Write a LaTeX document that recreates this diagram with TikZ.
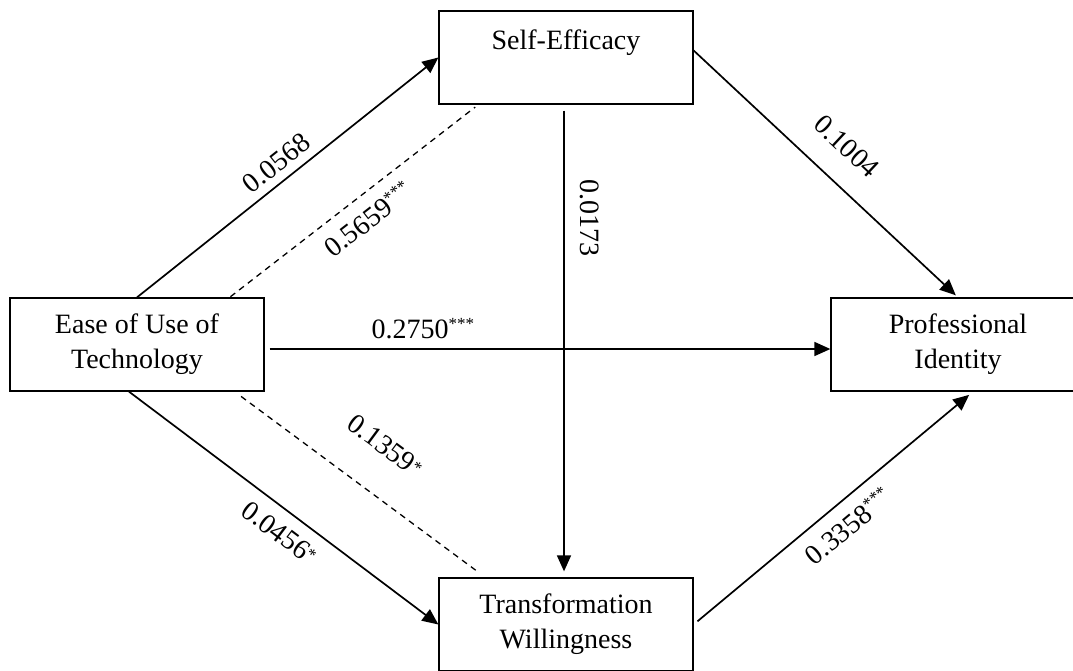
\documentclass[tikz,border=0pt]{standalone}
\usepackage{fontspec}
\setmainfont{Liberation Serif}
\usepackage{tikz}
\usetikzlibrary{positioning, arrows.meta}

% 유의성 표시 (위첨자 / 작은 별표)
\newcommand{\sighi}[1]{\textsuperscript{\fontsize{17}{17}\selectfont #1}}
\newcommand{\siglo}[1]{\raisebox{5pt}{\fontsize{17}{17}\selectfont #1}}

\begin{document}
\begin{tikzpicture}[x=1pt, y=-1pt, font=\fontsize{28}{35}\selectfont, >={Triangle[length=16pt,width=14pt]}]
        % 공통 스타일 설정
        \tikzset{
            box/.style={draw, line width=1.3pt, minimum width=254pt, minimum height=93pt, align=center, inner sep=0pt},
            effect/.style={->, line width=1.7pt},
            indirect/.style={line width=1.3pt, dash pattern=on 6pt off 5pt},
            coef/.style={sloped, inner sep=2pt}
        }

        % 그림 영역 (아래/오른쪽 상자는 잘려 보임)
        \useasboundingbox (0,0) rectangle (1073,670);

        % --- 변수 상자 ---
        \node[box] (ease) at (137,344.5) {Ease of Use of\\Technology};
        \node[box] (selfeff) at (566,57.5) {Self-Efficacy\\\mbox{}};
        \node[box] (transwill) at (566,624.5) {Transformation\\Willingness};
        \node[box] (profid) at (958,344.5) {Professional\\Identity};

        % --- 직접 경로 ---
        \draw[effect] (ease.north) -- (selfeff.west)
            node[coef, above=6pt, pos=0.5] {0.0568};
        \draw[effect, shorten >=3pt] ([yshift=7pt]selfeff.east) -- (profid.north)
            node[coef, above=22pt, pos=0.49] {0.1004};
        \draw[effect, shorten <=6pt, shorten >=6pt] ([xshift=-2pt]selfeff.south) -- ([xshift=-2pt]transwill.north)
            node[coef, above=13pt, pos=0.24] {0.0173};
        \draw[effect, shorten <=5pt] ([yshift=-4.5pt]ease.east) -- ([yshift=-4.5pt]profid.west)
            node[coef, above=7pt, pos=0.28] {0.2750\sighi{***}};
        \draw[effect] ([xshift=-8pt]ease.south) -- (transwill.west)
            node[coef, below=10pt, pos=0.53] {0.0456\siglo{*}};
        \draw[effect, shorten <=5pt, shorten >=5pt] (transwill.east) -- ([xshift=15pt]profid.south)
            node[coef, below=10pt, pos=0.5] {0.3358\sighi{***}};

        % --- 간접 경로 (점선) ---
        \draw[indirect, shorten <=1pt, shorten >=4pt] ([xshift=-35pt]ease.north east) -- ([xshift=40pt]selfeff.south west)
            node[coef, below=10pt, pos=0.5] {0.5659\sighi{***}};
        \draw[indirect, shorten <=8pt, shorten >=8pt] ([xshift=-30pt]ease.south east) -- ([xshift=47pt]transwill.north west)
            node[coef, above=34pt, pos=0.49] {0.1359\siglo{*}};
    \end{tikzpicture}
\end{document}
